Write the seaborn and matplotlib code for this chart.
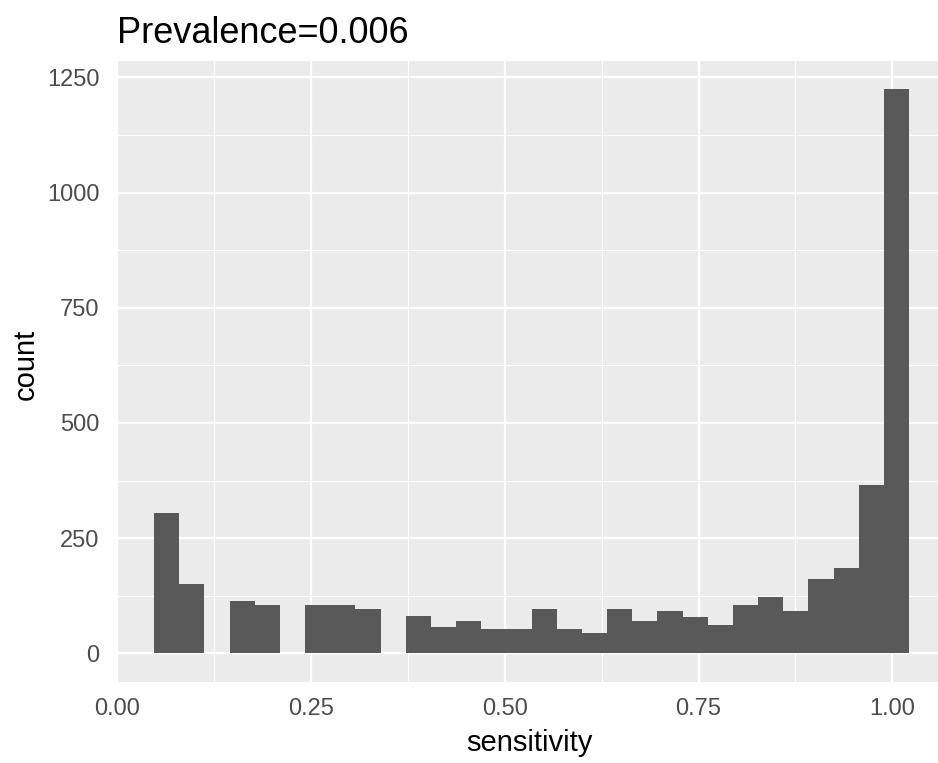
import numpy as np
import pandas as pd
import matplotlib
matplotlib.use("Agg")
import matplotlib.pyplot as plt
from matplotlib.ticker import MultipleLocator
import seaborn as sns

# ---- data (30 bins) ----
bin_start = 0.0477
bin_width = 0.03246
counts = [304, 150, 0, 114, 105, 0, 105, 105, 96, 0,
          80, 57, 70, 52, 52, 97, 52, 43, 97, 70,
          91, 79, 61, 105, 123, 91, 162, 185, 365, 1225]
x_ticks = [0.00, 0.25, 0.50, 0.75, 1.00]
x_tick_labels = ["0.00", "0.25", "0.50", "0.75", "1.00"]
y_ticks = [0, 250, 500, 750, 1000, 1250]
title = "Prevalence=0.006"
x_label = "sensitivity"
y_label = "count"

n_bins = len(counts)
centers = bin_start + bin_width * (np.arange(n_bins) + 0.5)
df = pd.DataFrame({"sensitivity": centers, "count": counts})

sns.set_style("white")
plt.rcParams["font.family"] = ["Liberation Sans", "DejaVu Sans"]

fig = plt.figure(figsize=(9.38, 7.63), dpi=100)
ax = fig.add_axes([0.1244, 0.1066, 0.8756, 0.8138])
ax.set_facecolor("#EBEBEB")

sns.histplot(data=df, x="sensitivity", weights="count", bins=n_bins,
             binrange=(bin_start, bin_start + n_bins * bin_width),
             color="#595959", alpha=1, linewidth=0, ax=ax, zorder=3)

ax.set_xlim(-0.0005, 1.0589)
ax.set_ylim(-61.6, 1286.3)

ax.set_xticks(x_ticks)
ax.set_xticklabels(x_tick_labels)
ax.set_yticks(y_ticks)
ax.xaxis.set_minor_locator(MultipleLocator(0.125))
ax.yaxis.set_minor_locator(MultipleLocator(125))

ax.grid(which="major", color="white", linewidth=1.6, zorder=0)
ax.grid(which="minor", color="white", linewidth=0.8, zorder=0)
ax.set_axisbelow(True)
for s in ax.spines.values():
    s.set_visible(False)

ax.tick_params(which="major", length=5.5, width=1.0, color="#333333",
               labelcolor="#4D4D4D", labelsize=17)
ax.tick_params(axis="x", which="major", pad=6.5)
ax.tick_params(axis="y", which="major", pad=7)
ax.tick_params(which="minor", length=0)

ax.set_title(title, loc="left", fontsize=26, pad=13, color="black")
ax.set_xlabel(x_label, fontsize=21, color="black")
ax.set_ylabel(y_label, fontsize=21, color="black")
ax.xaxis.set_label_coords(0.503, -0.077)
ax.yaxis.set_label_coords(-0.094, 0.511)

fig.savefig("out.png", dpi=100)
